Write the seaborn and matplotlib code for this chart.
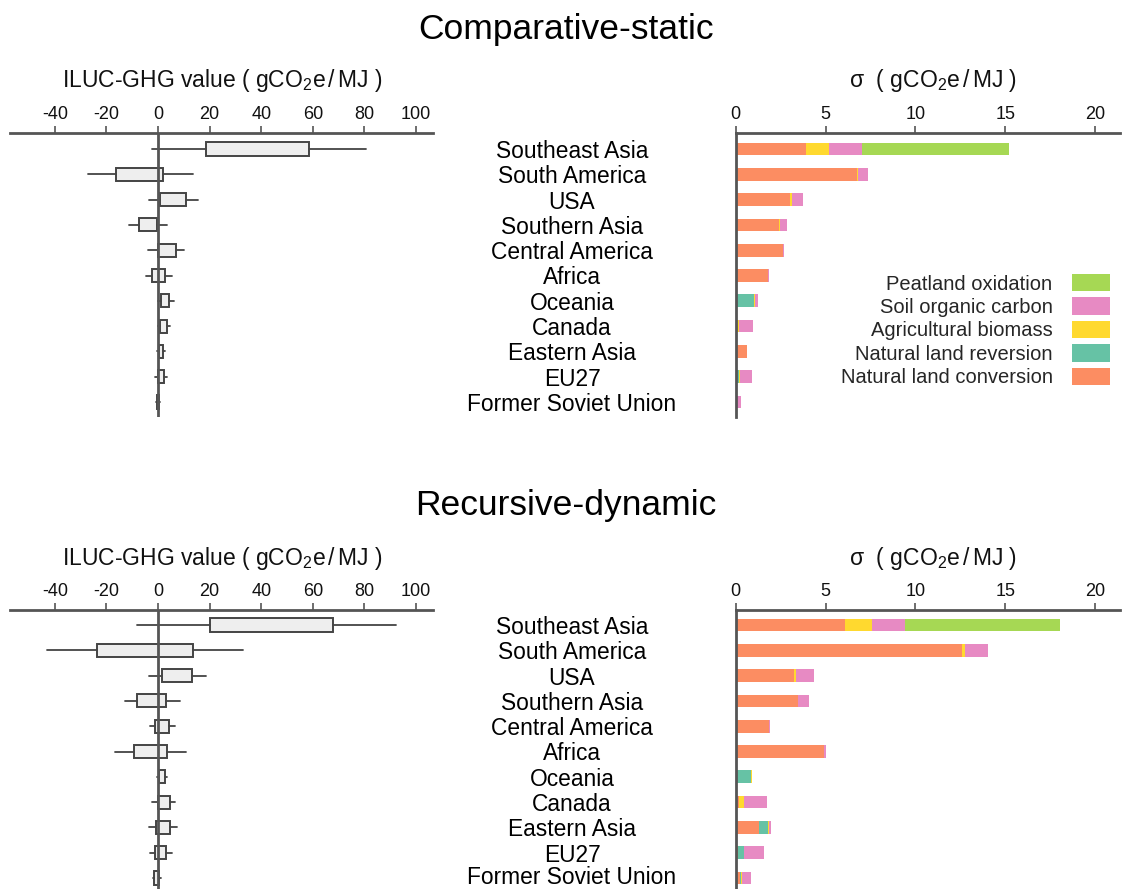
import numpy as np
import pandas as pd
import matplotlib
matplotlib.use("Agg")
import matplotlib.pyplot as plt
import matplotlib.transforms as mtransforms
from matplotlib.patches import Patch
import seaborn as sns

# ---------------- data ----------------
regions = ["Southeast Asia", "South America", "USA", "Southern Asia", "Central America",
           "Africa", "Oceania", "Canada", "Eastern Asia", "EU27", "Former Soviet Union"]

components = ["Natural land conversion", "Natural land reversion", "Agricultural biomass",
              "Soil organic carbon", "Peatland oxidation"]

# Comparative-static: box statistics (lower whisker, q1, q3, upper whisker), gCO2e/MJ
cs_whislo = [-2.2, -27.3, -3.5, -11.1, -4.0, -4.5, 0.0, 0.0, -0.4, -1.2, -0.8]
cs_q1 = [18.7, -16.4, 0.9, -7.5, 0.1, -2.3, 1.0, 0.8, 0.5, 0.0, -0.5]
cs_q3 = [58.6, 2.1, 10.7, -0.3, 7.1, 2.7, 4.1, 3.6, 2.1, 2.4, 0.5]
cs_whishi = [80.7, 13.7, 15.3, 3.6, 10.2, 5.3, 6.3, 4.6, 2.7, 3.6, 0.9]

# Comparative-static: sigma contributions
cs_conv = [3.89, 6.76, 3.00, 2.41, 2.61, 1.80, 0.00, 0.00, 0.63, 0.00, 0.00]
cs_rev = [0.00, 0.00, 0.00, 0.00, 0.00, 0.00, 1.00, 0.00, 0.00, 0.20, 0.00]
cs_agri = [1.31, 0.03, 0.15, 0.05, 0.00, 0.00, 0.05, 0.20, 0.00, 0.05, 0.00]
cs_soc = [1.84, 0.58, 0.59, 0.37, 0.06, 0.07, 0.19, 0.76, 0.02, 0.68, 0.31]
cs_peat = [8.18, 0.00, 0.00, 0.00, 0.00, 0.00, 0.00, 0.00, 0.00, 0.00, 0.00]

# Recursive-dynamic: box statistics
rd_whislo = [-8.2, -42.9, -3.7, -13.0, -3.2, -16.6, -0.6, -2.4, -3.4, -3.0, -2.1]
rd_q1 = [20.1, -23.8, 1.7, -8.1, -1.0, -9.4, 0.3, 0.1, -0.8, -1.0, -1.4]
rd_q3 = [68.0, 13.4, 13.1, 3.0, 4.4, 3.5, 2.6, 4.5, 4.6, 3.1, 0.5]
rd_whishi = [92.3, 32.9, 18.7, 8.5, 6.6, 10.8, 3.6, 6.6, 7.2, 5.3, 1.0]

# Recursive-dynamic: sigma contributions
rd_conv = [6.11, 12.59, 3.22, 3.44, 1.85, 4.94, 0.02, 0.20, 1.28, 0.15, 0.24]
rd_rev = [0.00, 0.00, 0.00, 0.00, 0.00, 0.00, 0.83, 0.00, 0.52, 0.29, 0.04]
rd_agri = [1.48, 0.19, 0.15, 0.03, 0.00, 0.00, 0.04, 0.28, 0.05, 0.03, 0.05]
rd_soc = [1.84, 1.28, 0.98, 0.62, 0.08, 0.10, 0.02, 1.26, 0.13, 1.09, 0.54]
rd_peat = [8.64, 0.00, 0.00, 0.00, 0.00, 0.00, 0.00, 0.00, 0.00, 0.00, 0.00]

comp_colors = ["#fc8d62", "#66c2a5", "#ffd92f", "#e78ac3", "#a6d854"]

# ---------------- style ----------------
sns.set_theme(style="white")
plt.rcParams["font.family"] = ["Liberation Sans", "DejaVu Sans"]
plt.rcParams["mathtext.fontset"] = "custom"
plt.rcParams["mathtext.rm"] = "Liberation Sans"
plt.rcParams["mathtext.it"] = "Liberation Sans:italic"
plt.rcParams["mathtext.bf"] = "Liberation Sans:bold"
plt.rcParams["mathtext.default"] = "regular"
plt.rcParams["axes.unicode_minus"] = False

W, H = 1122, 889
fig = plt.figure(figsize=(W / 100, H / 100), dpi=100)
spine_c = "#555555"


def fx(px):
    return px / W


def fy(py):
    return 1 - py / H


def make_box(ax, whislo, q1, q3, whishi, ylim):
    stats = []
    for lo, a, b, hi in zip(whislo, q1, q3, whishi):
        stats.append(dict(whislo=lo, q1=a, med=a, q3=b, whishi=hi, fliers=[]))
    ax.bxp(stats, positions=list(range(len(stats))), orientation="horizontal",
           widths=0.52, patch_artist=True, showcaps=False, showfliers=False,
           boxprops=dict(facecolor="#eeeeee", edgecolor="#444444", linewidth=1.4),
           whiskerprops=dict(color="#444444", linewidth=1.3),
           medianprops=dict(linewidth=0))
    ax.axvline(0, color=spine_c, linewidth=2.0, zorder=5)
    ax.set_xlim(-57.4, 106.6)
    ax.set_ylim(*ylim)
    ax.set_xticks([-40, -20, 0, 20, 40, 60, 80, 100])
    ax.xaxis.tick_top()
    ax.set_yticks([])
    for s in ["left", "right", "bottom"]:
        ax.spines[s].set_visible(False)
    ax.spines["top"].set_color(spine_c)
    ax.spines["top"].set_linewidth(2.0)
    ax.tick_params(axis="x", top=True, length=5, width=1.2, color=spine_c,
                   labelsize=13, pad=2, labelcolor="#111111")


def make_bars(ax, conv, rev, agri, soc, peat, ylim):
    df = pd.DataFrame({"region": regions, "conv": conv, "rev": rev, "agri": agri,
                       "soc": soc, "peat": peat})
    parts = ["conv", "rev", "agri", "soc", "peat"]
    cum = df[parts].cumsum(axis=1)
    for i in range(len(parts) - 1, -1, -1):
        d = pd.DataFrame({"region": regions, "val": cum[parts[i]].values})
        sns.barplot(data=d, x="val", y="region", order=regions, orient="h",
                    color=comp_colors[i], saturation=1, width=0.5, errorbar=None,
                    linewidth=0, ax=ax)
    ax.set_xlim(0, 21.39)
    ax.set_ylim(*ylim)
    ax.set_xticks([0, 5, 10, 15, 20])
    ax.xaxis.tick_top()
    ax.set_yticks([])
    ax.set_xlabel("")
    ax.set_ylabel("")
    for s in ["right", "bottom"]:
        ax.spines[s].set_visible(False)
    for s in ["top", "left"]:
        ax.spines[s].set_visible(True)
        ax.spines[s].set_color(spine_c)
        ax.spines[s].set_linewidth(2.0)
    ax.tick_params(axis="x", top=True, length=5, width=1.2, color=spine_c,
                   labelsize=13, pad=2, labelcolor="#111111")
    ax.tick_params(axis="y", left=False)


panels = [
    dict(title="Comparative-static", top=133, bottom=417, row0=149, title_y=30, lab_y=80,
         box=(cs_whislo, cs_q1, cs_q3, cs_whishi),
         bars=(cs_conv, cs_rev, cs_agri, cs_soc, cs_peat), legend=True),
    dict(title="Recursive-dynamic", top=609.5, bottom=889, row0=625, title_y=505, lab_y=558,
         box=(rd_whislo, rd_q1, rd_q3, rd_whishi),
         bars=(rd_conv, rd_rev, rd_agri, rd_soc, rd_peat), legend=False),
]
pitch = 25.3

for p in panels:
    ylim = ((p["bottom"] - p["row0"]) / pitch, (p["top"] - p["row0"]) / pitch)
    hgt = (p["bottom"] - p["top"]) / H
    axl = fig.add_axes([fx(10), fy(p["bottom"]), fx(433) - fx(10), hgt])
    axl.patch.set_alpha(0)
    make_box(axl, *p["box"], ylim=ylim)
    axr = fig.add_axes([fx(735.7), fy(p["bottom"]), fx(1120) - fx(735.7), hgt])
    axr.patch.set_alpha(0)
    make_bars(axr, *p["bars"], ylim=ylim)

    fig.text(fx(566), fy(p["title_y"]), p["title"], ha="center", va="center",
             fontsize=25.5, color="black")
    fig.text(fx(222), fy(p["lab_y"]), "ILUC-GHG value ( gCO$_2$e$\\,$/$\\,$MJ )",
             ha="center", va="center", fontsize=16.5, color="#111111")
    fig.text(fx(933), fy(p["lab_y"]), "σ  ( gCO$_2$e$\\,$/$\\,$MJ )",
             ha="center", va="center", fontsize=16.5, color="#111111")

    trans = mtransforms.blended_transform_factory(fig.transFigure, axr.transData)
    n = len(regions)
    for i, r in enumerate(regions):
        row_px = p["row0"] + i * pitch
        if row_px + 12 > H:
            # keep the last label fully inside the figure
            fig.text(fx(572), fy(H - 0.5), r, ha="center", va="bottom",
                     fontsize=16.4, color="black")
        else:
            axr.text(fx(572), i, r, transform=trans, ha="center", va="center_baseline",
                     fontsize=16.4, color="black", clip_on=False)

    if p["legend"]:
        order = [4, 3, 2, 1, 0]
        handles = [Patch(facecolor=comp_colors[k], edgecolor="none") for k in order]
        labels = [components[k] for k in order]
        fig.legend(handles, labels, loc="upper right",
                   bbox_to_anchor=(fx(1110), fy(274)), bbox_transform=fig.transFigure,
                   frameon=False, markerfirst=False, fontsize=14.5,
                   handlelength=1.9, handleheight=0.95, handletextpad=0.95,
                   labelspacing=0.19, borderpad=0, borderaxespad=0)

fig.savefig("out.png", dpi=100)
